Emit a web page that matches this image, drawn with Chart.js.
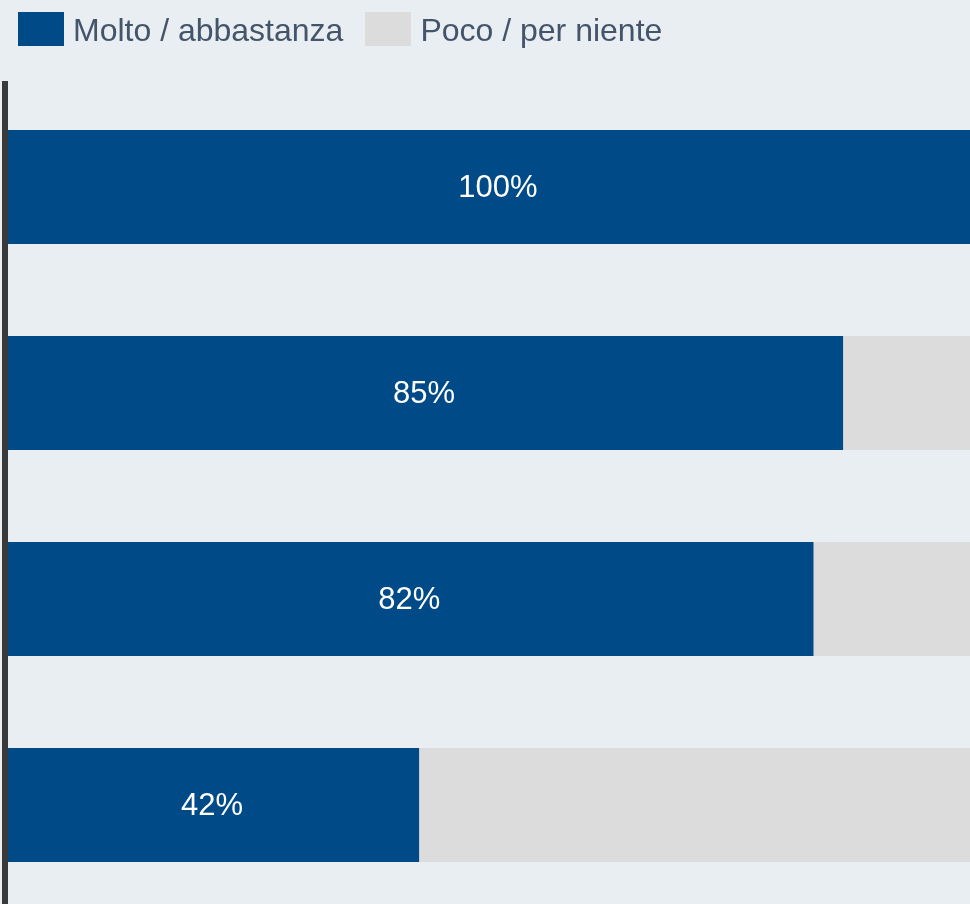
<!DOCTYPE html>
<html lang="it">
<head>
<meta charset="utf-8">
<title>Molto / abbastanza vs Poco / per niente</title>
<script src="https://cdn.jsdelivr.net/npm/chart.js@4/dist/chart.umd.min.js"></script>
<style>
    html, body {
        margin: 0;
        padding: 0;
        background: #e8eef1;
        overflow: hidden;
        width: 970px;
        height: 904px;
    }
    #wrap {
        position: relative;
        width: 991px;
        height: 908px;
    }
    #legend {
        position: absolute;
        left: 18px;
        top: 10px;
        display: flex;
        align-items: center;
        font-family: "Liberation Sans", Arial, sans-serif;
        font-size: 32px;
        color: #44546a;
        z-index: 2;
    }
    .item {
        display: flex;
        align-items: center;
        margin-right: 22px;
    }
    .item span:last-child {
        position: relative;
        top: 2px;
    }
    .swatch {
        width: 46px;
        height: 34px;
        margin-right: 9px;
    }
</style>
</head>
<body>
<div id="wrap">
    <div id="legend"></div>
    <canvas id="barsChart"></canvas>
</div>
<script>
// Data
const categories = ['Voce 1', 'Voce 2', 'Voce 3', 'Voce 4'];
const seriesNames = ['Molto / abbastanza', 'Poco / per niente'];
const moltoValues = [100, 85, 82, 42];
const pocoValues = [0, 15, 18, 58];

const seriesColors = ['#004a87', '#dcdcdc'];

// Simple HTML legend built from the series
function buildLegend() {
    const legend = document.getElementById('legend');
    seriesNames.forEach(function (name, i) {
        const item = document.createElement('div');
        item.className = 'item';
        const swatch = document.createElement('span');
        swatch.className = 'swatch';
        swatch.style.background = seriesColors[i];
        const label = document.createElement('span');
        label.textContent = name;
        item.appendChild(swatch);
        item.appendChild(label);
        legend.appendChild(item);
    });
}

// Percent labels inside the blue bars
const valueLabels = {
    id: 'valueLabels',
    afterDatasetsDraw(chart) {
        const ctx = chart.ctx;
        const meta = chart.getDatasetMeta(0);
        ctx.save();
        ctx.font = '31px "Liberation Sans", Arial, sans-serif';
        ctx.fillStyle = '#ffffff';
        ctx.textAlign = 'center';
        ctx.textBaseline = 'middle';
        meta.data.forEach(function (bar, i) {
            const cx = (bar.x + bar.base) / 2;
            ctx.fillText(moltoValues[i] + '%', cx, bar.y + 1);
        });
        ctx.restore();
    }
};

document.addEventListener('DOMContentLoaded', function () {
    buildLegend();

    const ctx = document.getElementById('barsChart').getContext('2d');
    new Chart(ctx, {
        type: 'bar',
        data: {
            labels: categories,
            datasets: [{
                label: seriesNames[0],
                data: moltoValues,
                backgroundColor: seriesColors[0],
                barPercentage: 0.553,
                categoryPercentage: 1
            }, {
                label: seriesNames[1],
                data: pocoValues,
                backgroundColor: seriesColors[1],
                barPercentage: 0.553,
                categoryPercentage: 1
            }]
        },
        options: {
            indexAxis: 'y',
            responsive: true,
            maintainAspectRatio: false,
            animation: false,
            layout: {
                padding: { top: 84, left: 0, right: 0, bottom: 0 }
            },
            scales: {
                x: {
                    stacked: true,
                    min: 0,
                    max: 100,
                    display: false
                },
                y: {
                    stacked: true,
                    grid: { display: false },
                    ticks: { display: false },
                    border: { display: true, color: '#3a3a3a', width: 6, z: 1 },
                    afterFit: function (scale) {
                        scale.width = 5;
                    }
                }
            },
            plugins: {
                legend: { display: false },
                tooltip: { enabled: false }
            }
        },
        plugins: [valueLabels]
    });
});
</script>
</body>
</html>
